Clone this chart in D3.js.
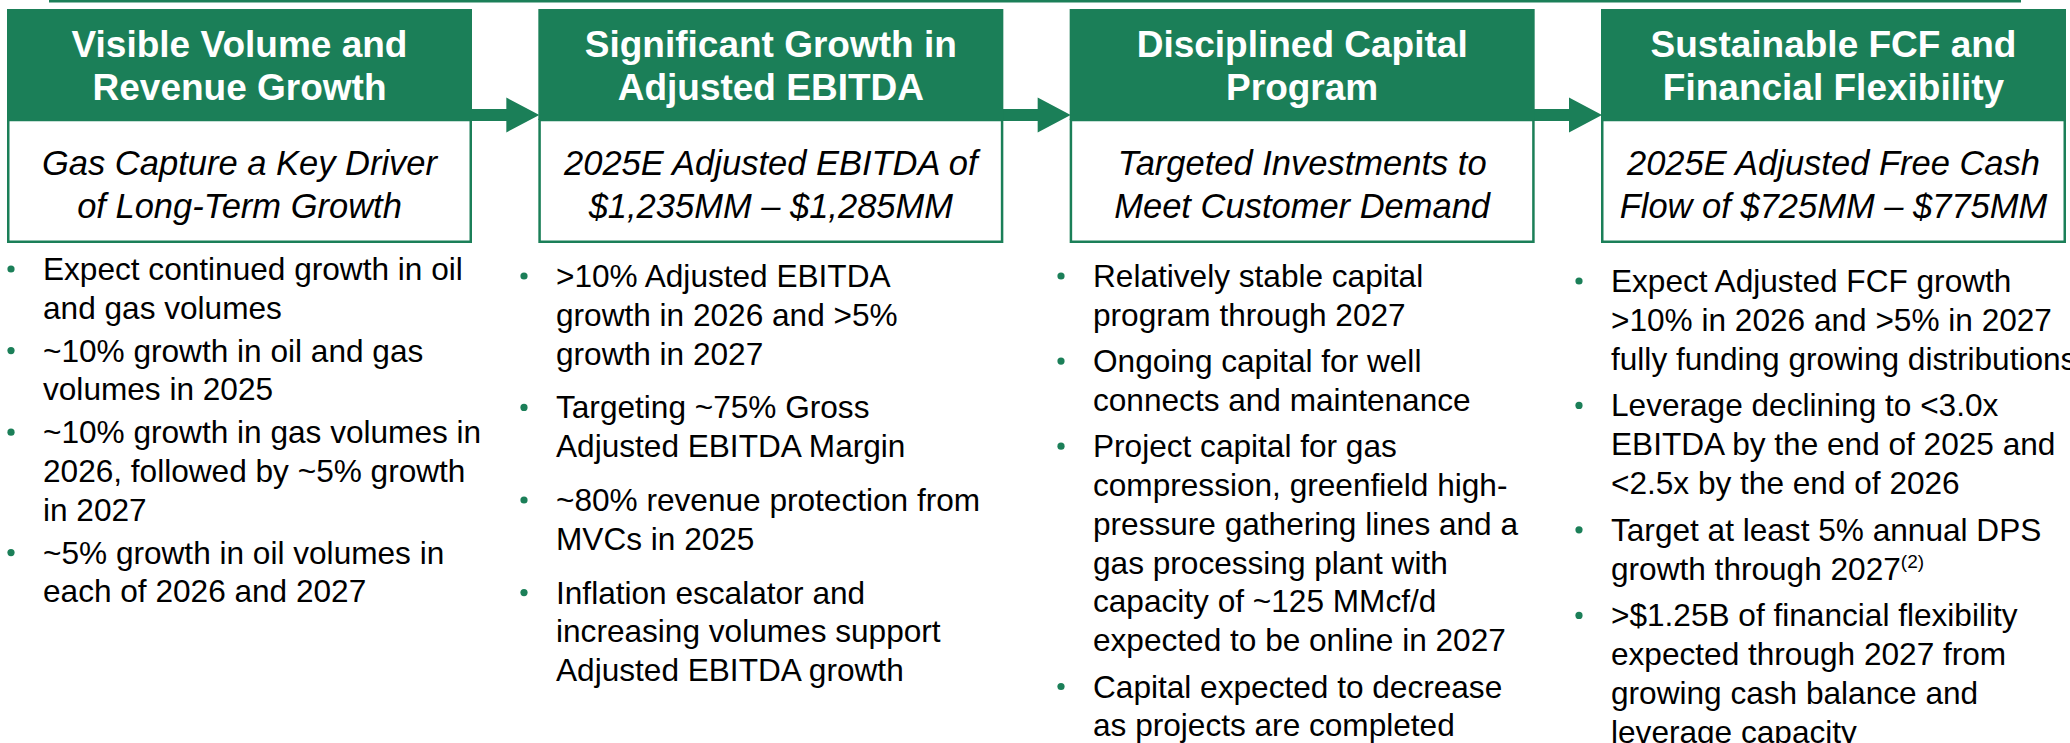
<!DOCTYPE html>
<html>
<head>
<meta charset="utf-8">
<script src="https://cdn.jsdelivr.net/npm/d3@7"></script>
<style>
  html, body { margin: 0; padding: 0; background: #fff; overflow: hidden; }
  svg { display: block; font-family: "Liberation Sans", Arial, sans-serif; }
</style>
</head>
<body>
<script>
// Content
const headers = [
    ['Visible Volume and', 'Revenue Growth'],
    ['Significant Growth in', 'Adjusted EBITDA'],
    ['Disciplined Capital', 'Program'],
    ['Sustainable FCF and', 'Financial Flexibility'],
];

const subtitles = [
    ['Gas Capture a Key Driver', 'of Long-Term Growth'],
    ['2025E Adjusted EBITDA of', '$1,235MM \u2013 $1,285MM'],
    ['Targeted Investments to', 'Meet Customer Demand'],
    ['2025E Adjusted Free Cash', 'Flow of $725MM \u2013 $775MM'],
];

const bullets = [
    [
        ['Expect continued growth in oil', 'and gas volumes'],
        ['~10% growth in oil and gas', 'volumes in 2025'],
        ['~10% growth in gas volumes in', '2026, followed by ~5% growth', 'in 2027'],
        ['~5% growth in oil volumes in', 'each of 2026 and 2027'],
    ],
    [
        ['>10% Adjusted EBITDA', 'growth in 2026 and >5%', 'growth in 2027'],
        ['Targeting ~75% Gross', 'Adjusted EBITDA Margin'],
        ['~80% revenue protection from', 'MVCs in 2025'],
        ['Inflation escalator and', 'increasing volumes support', 'Adjusted EBITDA growth'],
    ],
    [
        ['Relatively stable capital', 'program through 2027'],
        ['Ongoing capital for well', 'connects and maintenance'],
        ['Project capital for gas', 'compression, greenfield high-', 'pressure gathering lines and a',
         'gas processing plant with', 'capacity of ~125 MMcf/d', 'expected to be online in 2027'],
        ['Capital expected to decrease', 'as projects are completed'],
    ],
    [
        ['Expect Adjusted FCF growth', '>10% in 2026 and >5% in 2027', 'fully funding growing distributions'],
        ['Leverage declining to <3.0x', 'EBITDA by the end of 2025 and', '<2.5x by the end of 2026'],
        ['Target at least 5% annual DPS', 'growth through 2027^(2)'],
        ['>$1.25B of financial flexibility', 'expected through 2027 from', 'growing cash balance and', 'leverage capacity'],
    ],
];

// Layout
const width = 2070, height = 743;
const green = '#1b7f58';
const cfg = {
    boxW: 465,
    boxTop: 9,
    headH: 111,
    boxBottom: 243,
    lineH: 38.8,
    // per column: first baseline, extra gap between bullets, text left
    firstBase: [280, 287, 287, 292],
    gap: [4, 15, 7.5, 8],
    textX: [43, 556, 1093, 1611],
};

const x = d3.scaleLinear().domain([0, 3]).range([7, 1601]);

const svg = d3.select('body').append('svg')
    .attr('width', width)
    .attr('height', height);

// top rule
svg.append('rect')
    .attr('x', 49).attr('y', 0)
    .attr('width', 2021 - 49).attr('height', 2.5)
    .attr('fill', green);

// arrows between boxes
const arrowLine = d3.line();
svg.selectAll('path.arrow')
    .data(d3.range(3)).enter()
    .append('path')
        .attr('class', 'arrow')
        .attr('fill', green)
        .attr('d', i => {
            const x0 = x(i) + cfg.boxW - 2, x1 = x(i + 1) + 1;
            const xh = x1 - 33, cy = 115;
            return arrowLine([
                [x0, cy - 6], [xh, cy - 6], [xh, cy - 17.5], [x1, cy],
                [xh, cy + 17.5], [xh, cy + 6], [x0, cy + 6],
            ]) + 'Z';
        });

const col = svg.selectAll('g.col')
    .data(d3.range(4)).enter()
    .append('g')
        .attr('class', 'col');

// white body box with green border
col.append('rect')
    .attr('x', i => x(i) + 1.25)
    .attr('y', cfg.boxTop + cfg.headH)
    .attr('width', cfg.boxW - 2.5)
    .attr('height', cfg.boxBottom - cfg.boxTop - cfg.headH - 1.25)
    .attr('fill', '#fff')
    .attr('stroke', green)
    .attr('stroke-width', 2.5);

// green header
col.append('rect')
    .attr('x', i => x(i))
    .attr('y', cfg.boxTop)
    .attr('width', cfg.boxW)
    .attr('height', cfg.headH)
    .attr('fill', green);

col.append('text')
    .attr('text-anchor', 'middle')
    .attr('fill', '#fff')
    .attr('font-weight', 'bold')
    .attr('font-size', 37)
    .selectAll('tspan')
    .data(i => headers[i].map(t => ({ i, t })))
    .enter().append('tspan')
        .attr('x', d => x(d.i) + cfg.boxW / 2)
        .attr('y', (d, j) => cfg.boxTop + 48 + j * 43)
        .text(d => d.t);

col.append('text')
    .attr('text-anchor', 'middle')
    .attr('fill', '#000')
    .attr('font-style', 'italic')
    .attr('font-size', 34.5)
    .selectAll('tspan')
    .data(i => subtitles[i].map(t => ({ i, t })))
    .enter().append('tspan')
        .attr('x', d => x(d.i) + cfg.boxW / 2)
        .attr('y', (d, j) => cfg.boxTop + cfg.headH + 55 + j * 43)
        .text(d => d.t);

// bullet lists
col.each(function(i) {
    const g = d3.select(this);
    let y = cfg.firstBase[i];
    bullets[i].forEach(lines => {
        g.append('circle')
            .attr('cx', cfg.textX[i] - 32)
            .attr('cy', y - 11)
            .attr('r', 3.6)
            .attr('fill', green);
        const text = g.append('text')
            .attr('font-size', 31.6)
            .attr('fill', '#000');
        lines.forEach((line, j) => {
            const parts = line.split('^');
            text.append('tspan')
                .attr('x', cfg.textX[i])
                .attr('y', y + j * cfg.lineH)
                .text(parts[0]);
            if (parts[1]) {
                text.append('tspan')
                    .attr('font-size', 19)
                    .attr('dy', -12)
                    .text(parts[1]);
            }
        });
        y += lines.length * cfg.lineH + cfg.gap[i];
    });
});
</script>
</body>
</html>
